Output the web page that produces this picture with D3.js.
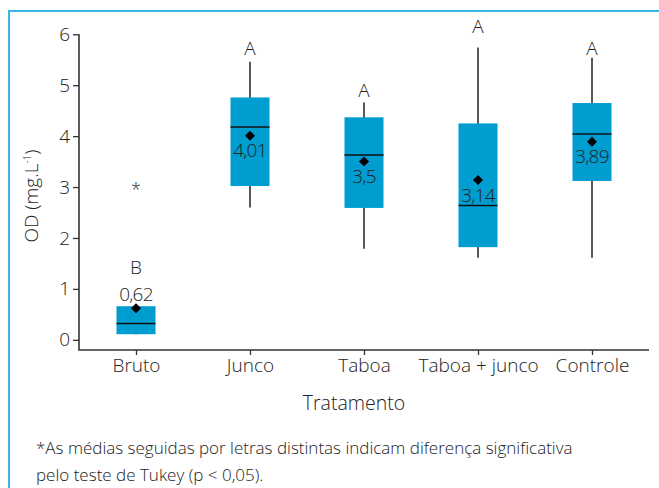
<!DOCTYPE html>
<html>
<head>
<meta charset="utf-8">
<script src="https://cdn.jsdelivr.net/npm/d3@7"></script>
<style>
  body { margin: 0; background: #fff; }
  text { font-family: "Open Sans", Lato, sans-serif; font-weight: 300; fill: #222; }
</style>
</head>
<body>
<svg id="chart" width="659" height="488"></svg>
<script>
// treatments and box stats
var categories = ["Bruto", "Junco", "Taboa", "Taboa + junco", "Controle"];
var whiskerLow  = [0.11, 2.60, 1.79, 1.61, 1.61];
var boxLow      = [0.11, 3.02, 2.59, 1.82, 3.12];
var medians     = [0.32, 4.18, 3.63, 2.64, 4.04];
var boxHigh     = [0.66, 4.76, 4.37, 4.25, 4.65];
var whiskerHigh = [0.66, 5.46, 4.66, 5.74, 5.54];
var means       = [0.62, 4.01, 3.50, 3.14, 3.89];
var meanLabels  = ["0,62", "4,01", "3,5", "3,14", "3,89"];
var letters     = ["B", "A", "A", "A", "A"];
var letterY     = [1.42, 5.72, 4.89, 6.16, 5.72];
var outliers    = [{cat: "Bruto", value: 2.98}];
var yTicks      = [0, 1, 2, 3, 4, 5, 6];

var BOX_COLOR = "#009dd1";
var FRAME_COLOR = "#3cb4e5";
var FONT = "'Open Sans', Lato, sans-serif";

var svg = d3.select("#chart");

// light blue frame (top + left)
svg.append("line").attr("x1", 9).attr("x2", 659).attr("y1", 11).attr("y2", 11)
    .style("stroke", FRAME_COLOR).style("stroke-width", 2);
svg.append("line").attr("x1", 9).attr("x2", 9).attr("y1", 10).attr("y2", 488)
    .style("stroke", FRAME_COLOR).style("stroke-width", 2);

var x = d3.scalePoint().domain(categories).range([79, 649]).padding(0.5);
var y = d3.scaleLinear().domain([-0.2, 6]).range([350, 34.3]);

// axes
var yAxis = svg.append("g")
    .attr("transform", "translate(79,0)")
    .call(d3.axisLeft(y).tickValues(yTicks).tickSize(6).tickPadding(3).tickFormat(d3.format("d")));
var xAxis = svg.append("g")
    .attr("transform", "translate(0,350)")
    .call(d3.axisBottom(x).tickSize(5).tickPadding(4));

[yAxis, xAxis].forEach(function(a) {
  a.select(".domain").attr("d", null);
  a.selectAll("line").style("stroke", "#333").style("stroke-width", 1.3);
  a.selectAll("text").style("font-size", "19px").style("font-family", FONT)
    .style("font-weight", 300).attr("fill", "#222");
});
// axis lines drawn as an L
svg.append("path")
    .attr("d", "M79," + y(6) + "V350H649")
    .style("fill", "none").style("stroke", "#333").style("stroke-width", 1.6);

var boxW = 39;
var rows = categories.map(function(c, i) {
  return {cat: c, wl: whiskerLow[i], q1: boxLow[i], med: medians[i], q3: boxHigh[i],
          wh: whiskerHigh[i], mean: means[i], label: meanLabels[i], letter: letters[i], ly: letterY[i]};
});

var g = svg.selectAll(".box").data(rows).enter().append("g").attr("class", "box");

g.append("line")
    .attr("x1", function(d) { return x(d.cat); })
    .attr("x2", function(d) { return x(d.cat); })
    .attr("y1", function(d) { return y(d.wl); })
    .attr("y2", function(d) { return y(d.wh); })
    .style("stroke", "#222").style("stroke-width", 1.5);

g.append("rect")
    .attr("x", function(d) { return x(d.cat) - boxW / 2; })
    .attr("width", boxW)
    .attr("y", function(d) { return y(d.q3); })
    .attr("height", function(d) { return y(d.q1) - y(d.q3); })
    .style("fill", BOX_COLOR);

g.append("line")
    .attr("x1", function(d) { return x(d.cat) - boxW / 2; })
    .attr("x2", function(d) { return x(d.cat) + boxW / 2; })
    .attr("y1", function(d) { return y(d.med); })
    .attr("y2", function(d) { return y(d.med); })
    .style("stroke", "#111").style("stroke-width", 1.5);

g.append("path")
    .attr("transform", function(d) { return "translate(" + x(d.cat) + "," + y(d.mean) + ")"; })
    .attr("d", "M0,-5L5,0L0,5L-5,0Z")
    .style("fill", "#000");

// mean value labels: below the diamond, except Bruto where it sits above
g.append("text")
    .attr("x", function(d) { return x(d.cat); })
    .attr("y", function(d) { return y(d.mean) + (d.cat === "Bruto" ? -14 : 15); })
    .attr("dy", "0.35em")
    .attr("text-anchor", "middle")
    .style("font-size", "19px")
    .style("letter-spacing", "-0.8px")
    .text(function(d) { return d.label; });

g.append("text")
    .attr("x", function(d) { return x(d.cat); })
    .attr("y", function(d) { return y(d.ly); })
    .attr("dy", "0.35em")
    .attr("text-anchor", "middle")
    .style("font-size", "19px")
    .text(function(d) { return d.letter; });

svg.selectAll(".outlier").data(outliers).enter().append("text")
    .attr("class", "outlier")
    .attr("x", function(d) { return x(d.cat); })
    .attr("y", function(d) { return y(d.value) + 8; })
    .attr("text-anchor", "middle")
    .style("font-size", "18px")
    .text("*");

// axis titles
svg.append("text")
    .attr("x", 354).attr("y", 410)
    .attr("text-anchor", "middle")
    .style("font-size", "19.5px")
    .text("Tratamento");

var yt = svg.append("text")
    .attr("transform", "translate(38,196) rotate(-90)")
    .attr("text-anchor", "middle")
    .style("font-size", "19px");
yt.append("tspan").text("OD (mg.L");
yt.append("tspan").attr("dy", -7).style("font-size", "10px").text("-1");
yt.append("tspan").attr("dy", 7).text(")");

// footnote
svg.append("text").attr("x", 36).attr("y", 454).style("font-size", "17px")
    .text("*As médias seguidas por letras distintas indicam diferença significativa");
svg.append("text").attr("x", 36).attr("y", 481).style("font-size", "17px")
    .text("pelo teste de Tukey (p < 0,05).");
</script>
</body>
</html>
